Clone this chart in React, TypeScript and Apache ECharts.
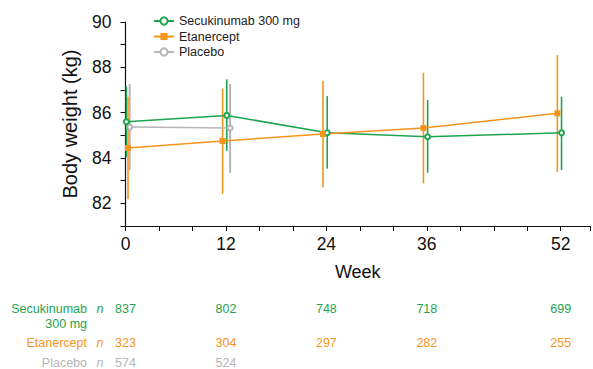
import React, { useEffect, useRef } from "react";
import * as echarts from "echarts";

// ---- data ----
const weeks = [0, 12, 24, 36, 52];
const tickLabelWeeks = [0, 12, 24, 36, 52];

const secukinumabMean = [85.6, 85.88, 85.11, 84.94, 85.11];
const secukinumabLow = [84.03, 84.32, 83.53, 83.35, 83.47];
const secukinumabHigh = [87.16, 87.47, 86.73, 86.56, 86.7];
const secukinumabN = [837, 802, 748, 718, 699];

const etanerceptMean = [84.44, 84.75, 85.06, 85.32, 85.97];
const etanerceptLow = [82.18, 82.41, 82.71, 82.88, 83.39];
const etanerceptHigh = [86.7, 87.06, 87.4, 87.76, 88.54];
const etanerceptN = [323, 304, 297, 282, 255];

const placeboWeeks = [0, 12];
const placeboMean = [85.37, 85.32];
const placeboLow = [83.47, 83.35];
const placeboHigh = [87.26, 87.26];
const placeboN = [574, 524];

const seriesNames = ["Secukinumab 300 mg", "Etanercept", "Placebo"];

// ---- style ----
const GREEN = "#1ea44e";
const ORANGE = "#f7941d";
const GRAY = "#b5b5b5";
const FONT = "'Liberation Sans', Arial, Helvetica, sans-serif";
// horizontal dodge (in weeks) applied to each group so bars don't overlap
const dodgeGreen = [0.1, 0.1, 0.1, 0.1, 0.1];
const dodgeOrange = [0.3, -0.4, -0.4, -0.4, -0.4];
const dodgeGray = [0.5, 0.5];
const tableRowY = [309, 343, 363];
const tableColors = [GREEN, ORANGE, GRAY];

export default function App() {
  const ref = useRef<HTMLDivElement>(null);

  useEffect(() => {
    if (!ref.current) return;
    const chart = echarts.init(ref.current, null, { renderer: "svg" });

    const pts = (w: number[], d: number[], m: number[]) => w.map((x, i) => [x + d[i], m[i]]);
    const bars = (w: number[], d: number[], lo: number[], hi: number[]) =>
      w.map((x, i) => [x + d[i], lo[i], hi[i]]);

    const errorSeries = (data: number[][], color: string, width: number) => ({
      type: "custom",
      silent: true,
      clip: false,
      data,
      encode: { x: 0, y: [1, 2] },
      renderItem: (_p: any, api: any) => {
        const a = api.coord([api.value(0), api.value(1)]);
        const b = api.coord([api.value(0), api.value(2)]);
        return {
          type: "line",
          shape: { x1: a[0], y1: a[1], x2: b[0], y2: b[1] },
          style: { stroke: color, lineWidth: width },
        };
      },
    });

    const tableData: number[][] = [];
    weeks.forEach((w, i) => tableData.push([w, secukinumabN[i], 0]));
    weeks.forEach((w, i) => tableData.push([w, etanerceptN[i], 1]));
    placeboWeeks.forEach((w, i) => tableData.push([w, placeboN[i], 2]));

    const tickStyle = { fontSize: 17.5, color: "#111", fontFamily: FONT };

    chart.setOption({
      animation: false,
      grid: { left: 125.5, top: 22, right: 0, height: 204 },
      legend: {
        data: seriesNames,
        orient: "vertical",
        left: 148,
        top: 9,
        itemWidth: 20,
        itemHeight: 9,
        itemGap: 1.5,
        textStyle: { fontSize: 12.5, color: "#222", fontFamily: FONT, lineHeight: 14 },
      },
      xAxis: {
        type: "value",
        min: 0,
        max: 55.5,
        interval: 4,
        name: "Week",
        nameLocation: "middle",
        nameGap: 37,
        nameTextStyle: { fontSize: 18, color: "#111", fontFamily: FONT },
        axisLine: { lineStyle: { color: "#111", width: 1.2 } },
        axisTick: { show: true, length: 5, lineStyle: { color: "#111" } },
        splitLine: { show: false },
        axisLabel: {
          ...tickStyle,
          margin: 9,
          formatter: (v: number) => (tickLabelWeeks.includes(v) ? String(v) : ""),
        },
      },
      yAxis: {
        type: "value",
        min: 81,
        max: 90,
        interval: 1,
        name: "Body weight (kg)",
        nameLocation: "middle",
        nameGap: 46,
        nameTextStyle: { fontSize: 20, color: "#111", fontFamily: FONT },
        axisLine: { show: true, lineStyle: { color: "#111", width: 1.2 } },
        axisTick: { show: true, length: 5, lineStyle: { color: "#111" } },
        splitLine: { show: false },
        axisLabel: {
          ...tickStyle,
          margin: 14,
          formatter: (v: number) => (v % 2 === 0 ? String(v) : ""),
        },
      },
      series: [
        errorSeries(bars(placeboWeeks, dodgeGray, placeboLow, placeboHigh), GRAY, 2),
        errorSeries(bars(weeks, dodgeGreen, secukinumabLow, secukinumabHigh), GREEN, 1.6),
        errorSeries(bars(weeks, dodgeOrange, etanerceptLow, etanerceptHigh), ORANGE, 1.6),
        {
          name: seriesNames[2],
          type: "line",
          data: pts(placeboWeeks, dodgeGray, placeboMean),
          symbol: "emptyCircle",
          symbolSize: 5,
          itemStyle: { color: GRAY, borderWidth: 1.3 },
          lineStyle: { color: GRAY, width: 1.5 },
        },
        {
          name: seriesNames[0],
          type: "line",
          data: pts(weeks, dodgeGreen, secukinumabMean),
          symbol: "emptyCircle",
          symbolSize: 5,
          itemStyle: { color: GREEN, borderWidth: 1.3 },
          lineStyle: { color: GREEN, width: 1.5 },
        },
        {
          name: seriesNames[1],
          type: "line",
          data: pts(weeks, dodgeOrange, etanerceptMean),
          symbol: "rect",
          symbolSize: 6,
          itemStyle: { color: ORANGE },
          lineStyle: { color: ORANGE, width: 1.5 },
        },
        {
          type: "custom",
          silent: true,
          clip: false,
          data: tableData,
          encode: { x: 0, y: -1 },
          renderItem: (_p: any, api: any) => {
            const x = api.coord([api.value(0), 85])[0];
            const row = api.value(2);
            return {
              type: "text",
              x,
              y: tableRowY[row],
              style: {
                text: String(api.value(1)),
                fill: tableColors[row],
                font: `12.5px ${FONT}`,
                align: "center",
                verticalAlign: "middle",
              },
            };
          },
        },
      ],
      graphic: [
        {
          type: "text",
          x: 87,
          y: 309,
          style: {
            text: "Secukinumab",
            fill: GREEN,
            font: `12.5px ${FONT}`,
            align: "right",
            verticalAlign: "middle",
          },
        },
        {
          type: "text",
          x: 87,
          y: 324,
          style: {
            text: "300 mg",
            fill: GREEN,
            font: `12.5px ${FONT}`,
            align: "right",
            verticalAlign: "middle",
          },
        },
        {
          type: "text",
          x: 87,
          y: 343,
          style: {
            text: "Etanercept",
            fill: ORANGE,
            font: `12.5px ${FONT}`,
            align: "right",
            verticalAlign: "middle",
          },
        },
        {
          type: "text",
          x: 87,
          y: 363,
          style: {
            text: "Placebo",
            fill: GRAY,
            font: `12.5px ${FONT}`,
            align: "right",
            verticalAlign: "middle",
          },
        },
        ...tableRowY.map((y, i) => ({
          type: "text",
          x: 100,
          y,
          style: {
            text: "n",
            fill: tableColors[i],
            font: `italic 12.5px ${FONT}`,
            align: "center",
            verticalAlign: "middle",
          },
        })),
      ],
    });

    return () => chart.dispose();
  }, []);

  return <div ref={ref} style={{ width: 593, height: 369, position: "absolute", left: 0, top: 0 }} />;
}
